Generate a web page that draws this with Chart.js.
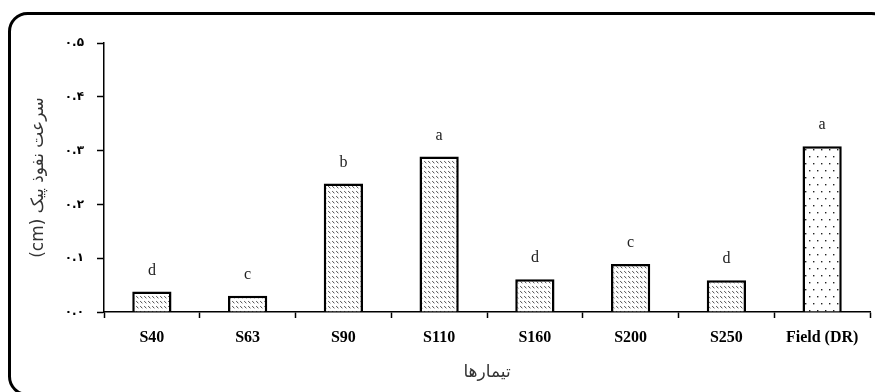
<!DOCTYPE html>
<html lang="fa">
<head>
  <meta charset="UTF-8">
  <title>سرعت نفوذ</title>
  <script src="https://cdn.jsdelivr.net/npm/chart.js"></script>
  <style>
    body {
      margin: 0;
      padding: 0;
      background: #fff;
    }
    canvas {
      display: block;
    }
  </style>
</head>
<body>
  <canvas id="chart" width="875" height="392"></canvas>

  <script>
    const categories = ["S40", "S63", "S90", "S110", "S160", "S200", "S250", "Field (DR)"];
    const velocity = [0.038, 0.030, 0.239, 0.289, 0.061, 0.089, 0.059, 0.308];
    const groupLetters = ["d", "c", "b", "a", "d", "c", "d", "a"];
    const yTickLabels = ["۰.۰", "۰.۱", "۰.۲", "۰.۳", "۰.۴", "۰.۵"];

    const canvas = document.getElementById("chart");
    const ctx = canvas.getContext("2d");

    // rows of short diagonal dashes for the sieve bars
    const makeHatch = () => {
      const tile = document.createElement("canvas");
      tile.width = 4;
      tile.height = 5;
      const t = tile.getContext("2d");
      t.fillStyle = "#fff";
      t.fillRect(0, 0, 4, 5);
      t.strokeStyle = "#333";
      t.lineWidth = 0.9;
      t.beginPath();
      t.moveTo(0.2, 1.2);
      t.lineTo(2.4, 3.2);
      t.stroke();
      return ctx.createPattern(tile, "repeat");
    };

    // sparse staggered dots for the field bar
    const makeDots = () => {
      const tile = document.createElement("canvas");
      tile.width = 8;
      tile.height = 14;
      const t = tile.getContext("2d");
      t.fillStyle = "#fff";
      t.fillRect(0, 0, 8, 14);
      t.fillStyle = "#222";
      t.fillRect(1, 2, 1.4, 1.4);
      t.fillRect(5, 9, 1.4, 1.4);
      return ctx.createPattern(tile, "repeat");
    };

    const hatch = makeHatch();
    const dots = makeDots();
    const fills = categories.map((c, i) => (i === categories.length - 1 ? dots : hatch));

    const framePlugin = {
      id: "frame",
      beforeDraw(chart) {
        const c = chart.ctx;
        c.save();
        c.fillStyle = "#fff";
        c.fillRect(0, 0, chart.width, chart.height);
        c.strokeStyle = "#000";
        c.lineWidth = 3;
        c.beginPath();
        c.roundRect(9.5, 13.5, 880, 381, 18);
        c.stroke();
        c.restore();
      }
    };

    const lettersPlugin = {
      id: "letters",
      afterDatasetsDraw(chart) {
        const c = chart.ctx;
        const meta = chart.getDatasetMeta(0);
        c.save();
        c.font = "16px 'Liberation Serif', serif";
        c.fillStyle = "#222";
        c.textAlign = "center";
        c.textBaseline = "middle";
        meta.data.forEach((bar, i) => {
          c.fillText(groupLetters[i], bar.x, bar.y - 21);
        });
        c.restore();
      }
    };

    new Chart(ctx, {
      type: "bar",
      data: {
        labels: categories,
        datasets: [
          {
            data: velocity,
            backgroundColor: fills,
            borderColor: "#000",
            borderWidth: 2.5,
            categoryPercentage: 1,
            barPercentage: 0.41
          }
        ]
      },
      plugins: [framePlugin, lettersPlugin],
      options: {
        responsive: false,
        animation: false,
        layout: { padding: { top: 43, right: 5, bottom: 0, left: 0 } },
        plugins: {
          legend: { display: false },
          tooltip: { enabled: false }
        },
        scales: {
          x: {
            afterFit: (scale) => { scale.height = 80; },
            grid: {
              display: true,
              offset: true,
              drawOnChartArea: false,
              drawTicks: true,
              tickLength: 6,
              tickWidth: 1.5,
              tickColor: "#000"
            },
            border: { color: "#000", width: 1.5 },
            ticks: {
              color: "#000",
              padding: 10,
              font: { family: "'Liberation Serif', serif", size: 16, weight: "bold" }
            },
            title: {
              display: true,
              text: "تیمارها",
              color: "#333",
              font: { family: "'DejaVu Sans', sans-serif", size: 17 },
              padding: { top: 0, bottom: 9 }
            }
          },
          y: {
            min: 0,
            max: 0.5,
            afterFit: (scale) => { scale.width = 104; },
            grid: {
              display: true,
              drawOnChartArea: false,
              drawTicks: true,
              tickLength: 7,
              tickWidth: 1.5,
              tickColor: "#000"
            },
            border: { color: "#000", width: 1.5 },
            ticks: {
              stepSize: 0.1,
              color: "#000",
              padding: 13,
              font: { family: "'DejaVu Sans', sans-serif", size: 12, weight: "bold" },
              callback: (v) => yTickLabels[Math.round(v * 10)]
            },
            title: {
              display: true,
              // right-to-left embedding keeps (cm) at the end of the Persian title
              text: "\u202Bسرعت نفوذ پیک (cm)\u202C",
              color: "#333",
              font: { family: "'DejaVu Sans', sans-serif", size: 17 },
              padding: { top: 28, bottom: 0 }
            }
          }
        }
      }
    });
  </script>
</body>
</html>
